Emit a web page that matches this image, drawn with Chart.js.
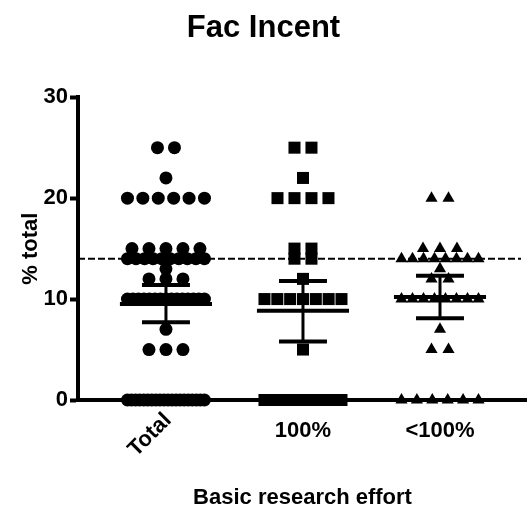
<!DOCTYPE html>
<html>
<head>
<meta charset="utf-8">
<script src="https://cdn.jsdelivr.net/npm/chart.js@4/dist/chart.umd.min.js"></script>
<style>
  html, body { margin: 0; padding: 0; background: #fff; }
  #wrap { width: 527px; height: 517px; }
</style>
</head>
<body>
<div id="wrap"><canvas id="facIncent" width="527" height="517"></canvas></div>
<script>
// values
const categories = ['Total', '100%', '<100%'];
const pct100 = [25, 25, 22, 20, 20, 20, 20, 15, 15, 14, 14, 12,
  10, 10, 10, 10, 10, 10, 10, 5,
  0, 0, 0, 0, 0, 0, 0, 0, 0, 0, 0, 0, 0, 0];
const pctUnder100 = [20, 20, 15, 15, 15, 14, 14, 14, 14, 14, 14, 14, 14, 13, 12, 12,
  10, 10, 10, 10, 10, 10, 10, 10, 7, 5, 5,
  0, 0, 0, 0, 0, 0];
const pctTotal = pct100.concat(pctUnder100);
const groupMean = [9.5, 8.85, 10.2];
const ciLow = [7.7, 5.8, 8.1];
const ciHigh = [11.4, 11.8, 12.3];
const refLine = 14;
const yTicks = [0, 10, 20, 30];

const FONT = "'Liberation Sans', Arial, sans-serif";
Chart.defaults.font.family = FONT;
Chart.defaults.color = '#000';

// spread equal values side by side, like prism does
function spread(vals, center) {
  let counts = {};
  vals.forEach(v => counts[v] = (counts[v] || 0) + 1);
  let seen = {};
  return vals.map(v => {
    let k = counts[v];
    let i = seen[v] = (seen[v] === undefined ? 0 : seen[v] + 1);
    let step = k > 1 ? Math.min(0.124, 0.562 / (k - 1)) : 0;
    return { x: center + (i - (k - 1) / 2) * step, y: v };
  });
}

const extras = {
  id: 'extras',
  beforeDatasetsDraw(chart) {
    const {ctx, chartArea, scales: {y}} = chart;
    let py = y.getPixelForValue(refLine);
    ctx.save();
    ctx.strokeStyle = '#000';
    ctx.lineWidth = 2;
    ctx.setLineDash([7, 3]);
    ctx.beginPath();
    ctx.moveTo(chartArea.left, py);
    ctx.lineTo(chartArea.right - 6, py);
    ctx.stroke();
    ctx.restore();
  },
  afterDatasetsDraw(chart) {
    const {ctx, scales: {x, y}} = chart;
    ctx.save();
    ctx.strokeStyle = '#000';
    ctx.lineCap = 'butt';
    function hline(c, v, half) {
      ctx.beginPath();
      ctx.moveTo(x.getPixelForValue(c - half), y.getPixelForValue(v));
      ctx.lineTo(x.getPixelForValue(c + half), y.getPixelForValue(v));
      ctx.stroke();
    }
    categories.forEach((lab, i) => {
      let c = i + 1;
      ctx.lineWidth = 3;
      ctx.beginPath();
      ctx.moveTo(x.getPixelForValue(c), y.getPixelForValue(ciLow[i]));
      ctx.lineTo(x.getPixelForValue(c), y.getPixelForValue(ciHigh[i]));
      ctx.stroke();
      ctx.lineWidth = 4;
      hline(c, groupMean[i], 0.336);
      hline(c, ciLow[i], 0.175);
      hline(c, ciHigh[i], 0.175);
    });
    ctx.restore();
  },
  afterDraw(chart) {
    const {ctx, scales: {x}} = chart;
    ctx.save();
    ctx.fillStyle = '#000';
    ctx.font = 'bold 22px ' + FONT;
    categories.forEach((lab, i) => {
      let px = x.getPixelForValue(i + 1);
      if (i === 0) {
        ctx.save();
        ctx.translate(px + 2, 417);
        ctx.rotate(-Math.PI / 4);
        ctx.textAlign = 'right';
        ctx.textBaseline = 'middle';
        ctx.fillText(lab, 0, 0);
        ctx.restore();
      } else {
        ctx.textAlign = 'center';
        ctx.textBaseline = 'alphabetic';
        ctx.fillText(lab, px, 437);
      }
    });
    ctx.restore();
  }
};

new Chart(document.getElementById('facIncent').getContext('2d'), {
  type: 'scatter',
  data: {
    datasets: [
      { label: categories[0], data: spread(pctTotal, 1), pointStyle: 'circle', pointRadius: 6.5 },
      { label: categories[1], data: spread(pct100, 2), pointStyle: 'rect', pointRadius: 8.5 },
      { label: categories[2], data: spread(pctUnder100, 3), pointStyle: 'triangle', pointRadius: 7 }
    ].map(d => Object.assign(d, {
      backgroundColor: '#000', borderWidth: 0, pointHoverRadius: d.pointRadius, clip: false
    }))
  },
  options: {
    responsive: false,
    animation: false,
    layout: { autoPadding: false, padding: { left: 0, right: 0, top: 0, bottom: 0 } },
    plugins: {
      legend: { display: false },
      tooltip: { enabled: false },
      title: {
        display: true,
        text: 'Fac Incent',
        color: '#000',
        font: { size: 31, weight: 'bold' },
        padding: { top: 10, bottom: 50 }
      }
    },
    scales: {
      x: {
        type: 'linear',
        min: 0.358,
        max: 3.635,
        ticks: { display: false },
        grid: { display: false },
        border: { display: true, width: 4, color: '#000' },
        title: {
          display: true,
          text: 'Basic research effort',
          color: '#000',
          font: { size: 22, weight: 'bold' },
          padding: { top: 0, bottom: 6 }
        },
        afterFit: s => { s.height = 117; }
      },
      y: {
        min: 0,
        max: 30,
        afterBuildTicks: s => { s.ticks = yTicks.map(v => ({ value: v })); },
        ticks: { color: '#000', padding: 2, font: { size: 22, weight: 'bold' } },
        grid: { drawOnChartArea: false, drawTicks: true, tickLength: 8, tickWidth: 4, tickColor: '#000' },
        border: { display: true, width: 4, color: '#000' },
        title: {
          display: true,
          text: '% total',
          color: '#000',
          font: { size: 22, weight: 'bold' },
          padding: { top: 18, bottom: 0 }
        },
        afterFit: s => { s.width = 78; }
      }
    }
  },
  plugins: [extras]
});
</script>
</body>
</html>
